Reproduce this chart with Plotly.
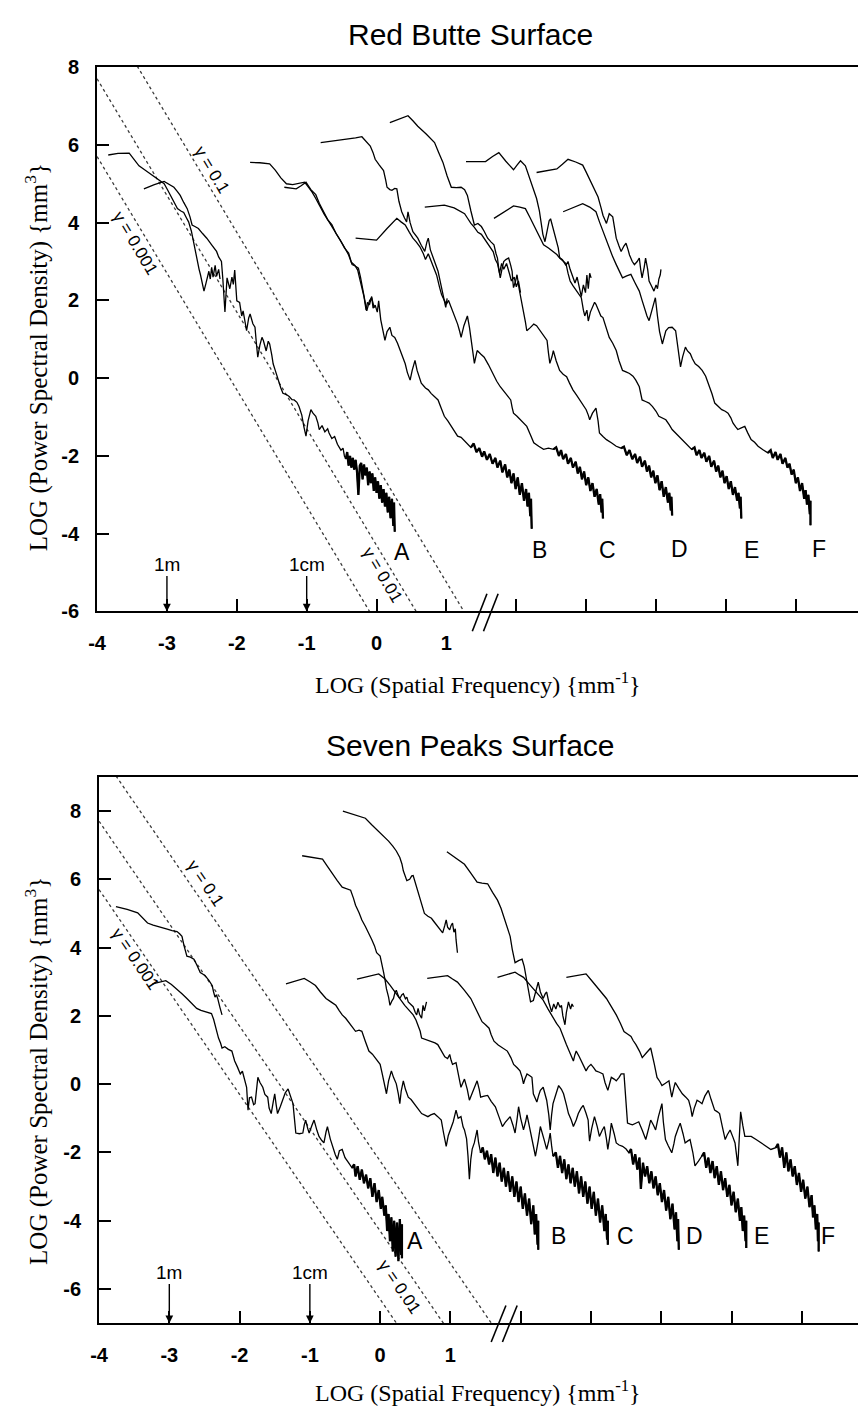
import plotly.graph_objects as go

# ---------------------------------------------------------------
# Power spectral density profiles, LOG10 units.
# Families A-F are displaced along the frequency axis by one decade
# each (axis broken after 1); each list holds (log f, log PSD) pairs.
# ---------------------------------------------------------------

# ---------------- Red Butte surface ----------------
RB_A_HI = [(-3.84,5.74),(-3.70,5.78),(-3.54,5.79),(-3.47,5.62),(-3.40,5.46),(-3.32,5.36),(-3.23,5.25),
           (-3.14,5.14),(-3.04,5.00),(-2.99,4.84),(-2.95,4.70),(-2.90,4.52),(-2.85,4.36),(-2.80,4.30),
           (-2.76,4.26),(-2.72,4.12),(-2.69,4.02),(-2.65,3.78),(-2.62,3.51),(-2.59,3.25),(-2.57,3.00),
           (-2.54,2.80),(-2.52,2.66),(-2.49,2.40),(-2.47,2.24),(-2.44,2.45),(-2.42,2.62),(-2.40,2.75),
           (-2.38,2.55),(-2.36,2.85),(-2.34,2.60),(-2.31,2.90),(-2.29,2.62),(-2.26,2.80),(-2.24,2.55)]
RB_A_LO = [(-3.33,4.87),(-3.18,4.98),(-3.04,5.06),(-2.97,4.98),(-2.90,4.91),(-2.85,4.80),(-2.81,4.70),
           (-2.76,4.52),(-2.71,4.36),(-2.67,4.15),(-2.64,3.94),(-2.60,3.90),(-2.55,3.85),(-2.49,3.72),
           (-2.43,3.60),(-2.36,3.43),(-2.29,3.26),(-2.26,3.12),(-2.22,3.00),(-2.20,2.55),(-2.17,1.70),
           (-2.14,2.58),(-2.10,2.30),(-2.07,2.60),(-2.05,2.41),(-2.03,2.78),(-2.01,2.10),(-2.00,1.99),
           (-1.96,1.95),(-1.93,1.60),(-1.91,1.73),(-1.88,1.40),(-1.86,1.22),(-1.83,1.55),(-1.81,1.65),
           (-1.77,1.40),(-1.74,1.31),(-1.72,0.90),(-1.70,0.54),(-1.67,0.85),(-1.64,1.05),(-1.62,0.97),
           (-1.58,0.70),(-1.55,0.95),(-1.53,0.88),(-1.50,0.60),(-1.48,0.37),(-1.45,0.20),(-1.41,-0.05),
           (-1.37,-0.25),(-1.34,-0.39),(-1.29,-0.42),(-1.25,-0.47),(-1.21,-0.55),(-1.18,-0.56),
           (-1.14,-0.62),(-1.11,-0.73),(-1.07,-0.95),(-1.04,-1.25),(-1.01,-1.49),(-0.98,-1.10),
           (-0.94,-0.81),(-0.91,-0.90),(-0.87,-0.98),(-0.84,-1.15),(-0.82,-1.32),(-0.78,-1.22),
           (-0.74,-1.38),(-0.70,-1.30),(-0.68,-1.41),(-0.64,-1.55),(-0.60,-1.50),(-0.56,-1.70),
           (-0.54,-1.75),(-0.51,-1.85),(-0.48,-1.80),(-0.46,-2.00),(-0.44,-2.08),(-0.42,-1.90),
           (-0.40,-2.25),(-0.38,-2.00),(-0.36,-2.30),(-0.34,-2.05),(-0.32,-2.35),(-0.30,-2.10),
           (-0.28,-2.40),(-0.26,-3.00),(-0.24,-2.25),(-0.22,-2.18),(-0.20,-2.60),(-0.18,-2.22),
           (-0.16,-2.50),(-0.14,-2.30),(-0.12,-2.75),(-0.10,-2.40),(-0.08,-2.70),(-0.06,-2.45),
           (-0.04,-2.90),(-0.02,-2.55),(0.00,-2.95),(0.02,-2.65),(0.04,-3.10),(0.06,-2.75),(0.08,-3.20),
           (0.10,-2.85),(0.12,-3.30),(0.14,-2.95),(0.16,-3.45),(0.18,-3.05),(0.20,-3.60),(0.22,-3.10),
           (0.24,-3.80),(0.25,-3.20),(0.26,-3.95)]
RB_B_HI = [(-1.81,5.55),(-1.67,5.54),(-1.53,5.51),(-1.45,5.35),(-1.37,5.15),(-1.29,5.00),(-1.20,4.98),
           (-1.10,5.02),(-1.03,5.04),(-0.97,4.90),(-0.92,4.78),(-0.87,4.62),(-0.82,4.45),(-0.75,4.22),
           (-0.68,4.02),(-0.61,3.82),(-0.54,3.60),(-0.47,3.40),(-0.40,3.17),(-0.37,3.02),(-0.35,2.92),
           (-0.30,2.88),(-0.26,2.83),(-0.23,2.60),(-0.21,2.41),(-0.17,2.05),(-0.14,1.73),(-0.10,2.00),
           (-0.07,2.07),(-0.04,1.85),(-0.02,1.82)]
RB_B_LO = [(-1.32,4.91),(-1.23,4.88),(-1.15,4.87),(-1.08,4.95),(-1.01,5.04),(-0.94,4.85),(-0.87,4.72),
           (-0.82,4.50),(-0.76,4.28),(-0.70,4.08),(-0.64,3.95),(-0.58,3.72),(-0.52,3.55),(-0.46,3.35),
           (-0.40,3.22),(-0.36,2.98),(-0.31,2.90),(-0.27,2.78),(-0.24,2.55),(-0.21,2.35),(-0.18,2.10),
           (-0.15,1.75),(-0.13,1.95),(-0.10,1.90),(-0.07,2.10),(-0.05,1.80),(-0.02,1.88),(0.01,1.70),
           (0.03,1.99),(0.06,1.50),(0.09,1.20),(0.12,0.97),(0.15,1.20),(0.19,1.31),(0.22,1.10),
           (0.26,1.05),(0.30,0.90),(0.34,0.71),(0.37,0.55),(0.41,0.37),(0.44,0.15),(0.48,-0.05),
           (0.51,0.20),(0.55,0.46),(0.58,0.20),(0.61,0.00),(0.64,-0.13),(0.70,-0.25),(0.74,-0.30),
           (0.78,-0.39),(0.83,-0.48),(0.88,-0.56),(0.92,-0.75),(0.97,-0.98),(1.02,-1.10),(1.07,-1.24),
           (1.12,-1.35),(1.16,-1.49),(1.21,-1.52),(1.26,-1.62),(1.30,-1.70),(1.35,-1.78),(1.39,-1.68),
           (1.43,-1.90),(1.47,-1.80),(1.51,-2.02),(1.54,-1.88),(1.58,-2.10),(1.62,-1.95),(1.66,-2.20),
           (1.70,-2.05),(1.73,-2.30),(1.77,-2.12),(1.80,-2.42),(1.84,-2.22),(1.87,-2.55),(1.90,-2.35),
           (1.93,-2.70),(1.96,-2.45),(1.99,-2.85),(2.02,-2.55),(2.05,-3.00),(2.08,-2.70),(2.11,-3.15),
           (2.14,-2.85),(2.16,-3.30),(2.18,-2.95),(2.20,-3.55),(2.21,-3.10),(2.22,-3.87)]
RB_C_HI = [(-0.80,6.06),(-0.62,6.10),(-0.44,6.13),(-0.30,6.18),(-0.21,6.21),(-0.15,6.10),(-0.09,5.97),
           (-0.05,5.80),(-0.02,5.63),(0.04,5.48),(0.10,5.34),(0.13,5.10),(0.15,4.91),(0.19,4.85),
           (0.22,4.83),(0.26,4.88),(0.29,4.87),(0.32,4.55),(0.36,4.28),(0.40,4.12),(0.43,4.02),
           (0.45,4.28),(0.48,4.00),(0.52,3.77),(0.56,3.68),(0.59,3.60),(0.64,3.42),(0.69,3.26),
           (0.72,3.50),(0.74,3.60),(0.77,3.30),(0.81,3.09),(0.84,2.92),(0.88,2.75),(0.90,2.58),
           (0.92,2.41),(0.95,2.20),(0.97,2.07),(0.99,1.82),(1.01,2.05)]
RB_C_LO = [(-0.30,3.60),(-0.15,3.58),(0.00,3.55),(0.15,3.85),(0.29,4.11),(0.35,4.02),(0.41,3.94),
           (0.47,3.75),(0.52,3.60),(0.57,3.50),(0.62,3.38),(0.67,3.20),(0.70,3.05),(0.74,3.20),
           (0.78,3.00),(0.82,2.80),(0.86,2.65),(0.90,2.35),(0.93,2.15),(0.97,2.00),(1.00,1.90),
           (1.03,2.00),(1.07,1.82),(1.11,1.60),(1.16,1.39),(1.19,1.20),(1.21,1.05),(1.25,1.35),
           (1.30,1.60),(1.33,1.30),(1.35,1.05),(1.38,0.70),(1.40,0.38),(1.42,0.55),(1.44,0.71),
           (1.49,0.62),(1.54,0.54),(1.60,0.35),(1.68,0.04),(1.72,-0.08),(1.77,-0.22),(1.84,-0.38),
           (1.92,-0.56),(1.94,-0.75),(1.96,-0.90),(2.01,-0.98),(2.06,-1.07),(2.10,-1.15),(2.15,-1.24),
           (2.20,-1.45),(2.25,-1.66),(2.32,-1.75),(2.39,-1.83),(2.46,-1.80),(2.53,-1.83),(2.57,-1.78),
           (2.61,-2.00),(2.64,-1.85),(2.67,-2.08),(2.71,-1.95),(2.74,-2.20),(2.78,-2.05),(2.81,-2.30),
           (2.85,-2.15),(2.88,-2.45),(2.91,-2.28),(2.94,-2.60),(2.97,-2.40),(3.00,-2.75),(3.03,-2.55),
           (3.06,-2.90),(3.09,-2.70),(3.12,-3.05),(3.15,-2.85),(3.18,-3.25),(3.20,-2.98),(3.22,-3.45),
           (3.23,-3.10),(3.24,-3.61)]
RB_D_HI = [(0.19,6.57),(0.32,6.66),(0.45,6.75),(0.52,6.62),(0.59,6.48),(0.71,6.28),(0.83,6.06),
           (0.89,5.80),(0.95,5.55),(1.01,5.20),(1.07,4.91),(1.14,4.90),(1.21,4.91),(1.26,4.85),
           (1.30,4.70),(1.35,4.30),(1.40,3.94),(1.45,3.98),(1.50,3.90),(1.54,3.78),(1.59,3.60),
           (1.64,3.50),(1.68,3.43),(1.71,3.20),(1.73,3.09),(1.75,2.80),(1.77,2.58),(1.80,2.85),
           (1.82,3.00),(1.85,3.05),(1.89,3.09),(1.92,2.90),(1.94,2.75),(1.95,2.50),(1.96,2.33),
           (1.99,2.50),(2.01,2.66),(2.04,2.30),(2.06,2.07),(2.08,1.90),(2.10,1.73),(2.13,1.45),
           (2.15,1.22),(2.20,1.30),(2.25,1.39),(2.29,1.35),(2.34,1.22),(2.39,1.10),(2.44,0.97),
           (2.46,0.65),(2.48,0.38),(2.51,0.55),(2.53,0.71),(2.57,0.45),(2.62,0.20),(2.67,0.10),
           (2.72,0.04),(2.76,-0.12),(2.81,-0.30),(2.86,-0.43),(2.91,-0.56),(2.95,-0.68),(3.00,-0.81),
           (3.03,-0.95),(3.05,-1.07),(3.09,-0.90),(3.14,-0.77),(3.17,-1.10),(3.19,-1.41),(3.24,-1.50),
           (3.29,-1.58),(3.36,-1.66),(3.43,-1.75),(3.50,-1.80),(3.54,-1.76),(3.58,-1.98),(3.62,-1.85),
           (3.66,-2.08),(3.70,-1.95),(3.73,-2.18),(3.77,-2.02),(3.80,-2.28),(3.84,-2.12),(3.87,-2.40),
           (3.90,-2.25),(3.93,-2.55),(3.96,-2.38),(3.99,-2.70),(4.02,-2.50),(4.05,-2.88),(4.08,-2.65),
           (4.11,-3.05),(4.14,-2.80),(4.17,-3.20),(4.19,-2.95),(4.21,-3.40),(4.22,-3.05),(4.23,-3.53)]
RB_D_LO = [(0.69,4.40),(0.83,4.43),(0.97,4.45),(1.11,4.38),(1.26,4.23),(1.30,4.12),(1.35,3.98),
           (1.40,3.88),(1.45,3.75),(1.50,3.70),(1.56,3.55),(1.62,3.40),(1.67,3.25),(1.70,3.05),
           (1.73,2.95),(1.76,2.70),(1.79,2.95),(1.82,2.80),(1.86,2.95),(1.90,2.70),(1.93,2.50),
           (1.97,2.60),(2.00,2.35),(2.03,2.50),(2.06,2.20)]
RB_E_HI = [(1.28,5.57),(1.42,5.57),(1.56,5.57),(1.66,5.70),(1.75,5.80),(1.85,5.58),(1.96,5.36),
           (2.01,5.48),(2.06,5.59),(2.13,5.46),(2.18,5.20),(2.22,4.95),(2.26,4.78),(2.29,4.62),
           (2.33,4.30),(2.36,3.94),(2.38,3.70),(2.41,3.51),(2.44,3.80),(2.47,4.05),(2.49,4.10),
           (2.52,3.90),(2.54,3.75),(2.57,3.60),(2.60,3.35),(2.62,3.10),(2.66,3.05),(2.71,2.90),
           (2.74,3.00),(2.77,2.80),(2.81,2.60),(2.84,2.45),(2.87,2.60),(2.90,2.30),(2.93,2.10),
           (2.96,2.40),(2.99,2.20),(3.01,2.65),(3.03,2.30),(3.05,2.70),(3.07,2.58)]
RB_E_LO = [(1.68,4.11),(1.82,4.28),(1.96,4.43),(2.05,4.40),(2.13,4.36),(2.19,4.15),(2.25,3.94),
           (2.32,3.68),(2.39,3.43),(2.46,3.35),(2.53,3.26),(2.58,3.18),(2.62,3.09),(2.67,3.02),
           (2.71,2.95),(2.74,2.70),(2.77,2.50),(2.81,2.38),(2.86,2.24),(2.90,2.15),(2.93,2.07),
           (2.96,1.75),(2.98,1.60),(3.01,1.75),(3.03,1.47),(3.06,1.70),(3.09,1.85),(3.12,1.95),
           (3.14,1.90),(3.18,1.75),(3.21,1.60),(3.24,1.56),(3.28,1.35),(3.33,1.05),(3.38,0.90),
           (3.43,0.71),(3.47,0.45),(3.52,0.20),(3.57,0.16),(3.62,0.12),(3.67,0.05),(3.71,-0.05),
           (3.76,-0.22),(3.78,-0.40),(3.80,-0.56),(3.85,-0.60),(3.90,-0.64),(3.95,-0.73),(4.00,-0.85),
           (4.04,-0.98),(4.09,-1.02),(4.14,-1.07),(4.19,-1.20),(4.23,-1.32),(4.30,-1.45),(4.37,-1.58),
           (4.44,-1.70),(4.51,-1.83),(4.55,-1.78),(4.58,-1.98),(4.62,-1.85),(4.65,-2.05),(4.69,-1.92),
           (4.72,-2.15),(4.76,-2.00),(4.79,-2.28),(4.83,-2.12),(4.86,-2.40),(4.89,-2.25),(4.92,-2.55),
           (4.95,-2.38),(4.98,-2.70),(5.01,-2.52),(5.04,-2.85),(5.07,-2.65),(5.10,-3.00),(5.13,-2.80),
           (5.16,-3.15),(5.18,-2.95),(5.20,-3.35),(5.21,-3.05),(5.22,-3.61)]
RB_F_HI = [(2.29,5.29),(2.44,5.33),(2.58,5.38),(2.66,5.50),(2.74,5.63),(2.85,5.56),(2.95,5.48),
           (3.00,5.30),(3.05,5.12),(3.11,4.90),(3.17,4.66),(3.21,4.40),(3.24,4.19),(3.29,3.98),
           (3.33,4.23),(3.38,4.15),(3.43,3.60),(3.47,3.40),(3.50,3.26),(3.54,3.40),(3.57,3.47),
           (3.60,3.30),(3.62,3.17),(3.66,3.00),(3.69,2.92),(3.73,3.00),(3.76,3.09),(3.78,2.80),
           (3.80,2.58),(3.83,2.85),(3.85,3.09),(3.88,2.80),(3.90,2.50),(3.94,2.35),(3.97,2.24),
           (4.00,2.40),(4.02,2.30),(4.04,2.55),(4.06,2.66),(4.07,2.80)]
RB_F_LO = [(2.67,4.28),(2.81,4.38),(2.95,4.49),(3.05,4.40),(3.14,4.28),(3.19,4.02),(3.24,3.77),
           (3.29,3.55),(3.33,3.34),(3.38,3.12),(3.43,2.92),(3.48,2.75),(3.52,2.58),(3.58,2.63),
           (3.64,2.67),(3.70,2.45),(3.76,2.24),(3.80,2.00),(3.84,1.75),(3.87,1.60),(3.90,1.48),
           (3.94,1.75),(3.99,2.07),(4.02,1.60),(4.05,1.20),(4.09,0.88),(4.11,1.00),(4.14,1.22),
           (4.18,1.30),(4.23,1.31),(4.28,1.22),(4.31,0.80),(4.35,0.29),(4.38,0.55),(4.42,0.80),
           (4.45,0.70),(4.49,0.63),(4.52,0.50),(4.56,0.37),(4.61,0.30),(4.66,0.20),(4.71,0.05),
           (4.75,-0.14),(4.80,-0.40),(4.84,-0.64),(4.89,-0.72),(4.94,-0.81),(4.99,-0.85),(5.03,-0.90),
           (5.07,-1.02),(5.10,-1.15),(5.14,-1.25),(5.17,-1.32),(5.22,-1.28),(5.27,-1.24),(5.31,-1.40),
           (5.36,-1.58),(5.41,-1.65),(5.46,-1.75),(5.53,-1.84),(5.60,-1.92),(5.64,-1.85),(5.67,-2.05),
           (5.71,-1.90),(5.74,-2.10),(5.78,-1.95),(5.81,-2.20),(5.85,-2.05),(5.88,-2.30),(5.91,-2.20),
           (5.94,-2.48),(5.97,-2.35),(6.00,-2.70),(6.03,-2.55),(6.06,-2.90),(6.09,-2.70),(6.12,-3.10),
           (6.14,-2.88),(6.16,-3.25),(6.18,-3.00),(6.20,-3.50),(6.21,-3.15),(6.21,-3.78)]

# ---------------- Seven Peaks surface ----------------
SP_A_HI = [(-3.76,5.20),(-3.60,5.12),(-3.45,5.02),(-3.38,4.88),(-3.31,4.72),(-3.23,4.66),(-3.15,4.62),
           (-3.09,4.58),(-3.03,4.54),(-2.96,4.50),(-2.89,4.47),(-2.85,4.40),(-2.82,4.33),(-2.79,4.05),
           (-2.75,3.75),(-2.70,3.72),(-2.65,3.66),(-2.61,3.50),(-2.56,3.27),(-2.52,3.22),(-2.49,3.18),
           (-2.44,3.05),(-2.39,2.89),(-2.37,2.70),(-2.35,2.55),(-2.33,2.62),(-2.31,2.50),(-2.28,2.25),
           (-2.25,2.03)]
SP_A_LO = [(-3.24,2.94),(-3.15,2.98),(-3.05,3.03),(-2.97,2.92),(-2.89,2.79),(-2.82,2.65),(-2.75,2.51),
           (-2.68,2.36),(-2.61,2.22),(-2.55,2.16),(-2.49,2.12),(-2.44,2.10),(-2.40,2.07),(-2.37,1.90),
           (-2.35,1.74),(-2.32,1.55),(-2.30,1.35),(-2.27,1.20),(-2.25,1.06),(-2.21,1.10),(-2.16,1.02),
           (-2.11,0.97),(-2.09,0.80),(-2.07,0.68),(-2.03,0.50),(-1.99,0.30),(-1.96,0.38),(-1.93,0.15),
           (-1.90,-0.09),(-1.88,-0.76),(-1.86,-0.40),(-1.83,-0.38),(-1.80,-0.60),(-1.78,-0.57),
           (-1.76,-0.10),(-1.74,0.20),(-1.71,0.05),(-1.67,-0.09),(-1.64,-0.30),(-1.60,-0.38),
           (-1.58,-0.70),(-1.55,-0.86),(-1.52,-0.50),(-1.50,-0.28),(-1.48,-0.60),(-1.46,-0.86),
           (-1.42,-0.65),(-1.39,-0.47),(-1.35,-0.25),(-1.31,-0.14),(-1.28,-0.30),(-1.24,-0.57),
           (-1.22,-1.00),(-1.20,-1.43),(-1.15,-1.45),(-1.10,-1.43),(-1.08,-1.20),(-1.06,-1.05),
           (-1.03,-1.30),(-1.01,-1.43),(-0.97,-1.20),(-0.94,-1.05),(-0.90,-1.35),(-0.87,-1.53),
           (-0.83,-1.65),(-0.80,-1.72),(-0.77,-1.40),(-0.75,-1.24),(-0.71,-1.60),(-0.68,-1.82),
           (-0.64,-2.05),(-0.61,-2.20),(-0.58,-1.95),(-0.54,-1.91),(-0.50,-2.15),(-0.45,-2.30),
           (-0.40,-2.45),(-0.37,-2.35),(-0.35,-2.70),(-0.32,-2.40),(-0.29,-2.80),(-0.26,-2.50),
           (-0.23,-2.90),(-0.20,-2.65),(-0.17,-3.05),(-0.14,-2.75),(-0.11,-3.30),(-0.08,-2.90),
           (-0.05,-3.45),(-0.02,-3.10),(0.01,-3.65),(0.03,-3.30),(0.06,-3.85),(0.08,-3.55),(0.10,-4.30),
           (0.12,-3.80),(0.14,-4.60),(0.16,-3.90),(0.18,-4.90),(0.20,-4.00),(0.22,-5.05),(0.24,-4.05),
           (0.26,-5.18),(0.28,-3.95),(0.30,-5.00),(0.31,-4.10),(0.31,-5.10)]
SP_HI_1 = [(-1.11,6.69),(-0.96,6.64),(-0.82,6.59),(-0.75,6.38),(-0.68,6.16),(-0.61,5.96),(-0.54,5.77),
           (-0.48,5.72),(-0.42,5.68),(-0.38,5.45),(-0.35,5.24),(-0.30,5.02),(-0.26,4.81),(-0.21,4.62),
           (-0.16,4.43),(-0.12,4.24),(-0.08,4.05),(-0.05,3.85),(0.00,3.75),(0.03,3.50),(0.05,3.27),
           (0.07,3.05),(0.09,2.79),(0.12,2.55),(0.14,2.31),(0.17,2.45),(0.19,2.51),(0.21,2.68),
           (0.23,2.75),(0.26,2.58),(0.28,2.51),(0.31,2.62),(0.33,2.65),(0.36,2.50),(0.38,2.55),
           (0.40,2.41),(0.43,2.35),(0.47,2.27),(0.50,2.10),(0.52,2.03),(0.54,2.22),(0.56,2.05),
           (0.59,1.93),(0.61,2.31),(0.63,2.15),(0.66,2.41)]
SP_HI_2 = [(-0.53,8.00),(-0.37,7.90),(-0.21,7.79),(-0.12,7.60),(-0.02,7.41),(0.05,7.27),(0.12,7.12),
           (0.18,6.97),(0.23,6.83),(0.28,6.64),(0.31,6.45),(0.33,6.25),(0.36,6.10),(0.38,5.96),
           (0.42,6.00),(0.45,6.10),(0.47,6.11),(0.50,5.90),(0.54,5.68),(0.58,5.35),(0.63,5.00),
           (0.68,4.92),(0.73,4.86),(0.77,4.75),(0.82,4.62),(0.86,4.50),(0.89,4.43),(0.92,4.65),
           (0.94,4.81),(0.96,4.60),(0.99,4.52),(1.01,4.65),(1.03,4.72),(1.05,4.45),(1.07,4.55),
           (1.08,4.24),(1.10,3.85)]
SP_HI_3 = [(0.95,6.81),(1.08,6.62),(1.20,6.44),(1.29,6.18),(1.38,5.92),(1.45,5.89),(1.53,5.87),
           (1.60,5.62),(1.67,5.39),(1.72,5.15),(1.76,4.91),(1.80,4.62),(1.85,4.33),(1.88,3.95),
           (1.92,3.56),(1.97,3.62),(2.02,3.66),(2.05,3.45),(2.08,3.10),(2.11,2.70),(2.14,2.41),
           (2.18,2.45),(2.21,2.70),(2.25,2.99),(2.28,2.70),(2.32,2.51),(2.35,2.65),(2.37,2.70),
           (2.40,2.40),(2.44,2.12),(2.47,2.35),(2.50,2.20),(2.53,2.40),(2.56,2.25),(2.58,2.31),
           (2.60,2.00),(2.63,1.74),(2.65,2.10),(2.68,2.41),(2.71,2.20),(2.73,2.35),(2.75,2.27)]
SP_B_LO = [(-1.34,2.94),(-1.21,3.02),(-1.08,3.10),(-1.00,3.00),(-0.92,2.89),(-0.85,2.70),(-0.77,2.51),
           (-0.70,2.41),(-0.63,2.31),(-0.58,2.15),(-0.54,2.03),(-0.49,1.93),(-0.45,1.83),(-0.40,1.70),
           (-0.35,1.55),(-0.30,1.58),(-0.26,1.55),(-0.21,1.25),(-0.16,0.97),(-0.11,0.88),(-0.07,0.78),
           (-0.03,0.68),(0.00,0.58),(0.03,0.30),(0.06,0.00),(0.09,-0.28),(0.12,0.10),(0.16,0.39),
           (0.19,0.20),(0.23,0.01),(0.26,-0.30),(0.28,-0.57),(0.30,-0.20),(0.33,0.10),(0.36,-0.15),
           (0.40,-0.38),(0.44,-0.45),(0.49,-0.57),(0.54,-0.72),(0.59,-0.86),(0.63,-0.90),(0.68,-0.95),
           (0.72,-0.90),(0.77,-0.86),(0.82,-0.95),(0.87,-1.05),(0.90,-1.40),(0.94,-1.82),(0.97,-1.50),
           (1.01,-1.24),(1.04,-1.10),(1.08,-0.76),(1.11,-1.00),(1.15,-0.95),(1.18,-1.25),(1.20,-1.34),
           (1.23,-1.60),(1.25,-2.10),(1.27,-2.78),(1.29,-2.20),(1.31,-1.90),(1.34,-1.72),(1.36,-1.50),
           (1.38,-1.34),(1.40,-1.70),(1.43,-2.01),(1.46,-1.85),(1.49,-2.20),(1.52,-1.95),(1.55,-2.35),
           (1.58,-2.05),(1.61,-2.60),(1.64,-2.15),(1.67,-2.70),(1.70,-2.30),(1.73,-2.85),(1.76,-2.45),
           (1.79,-3.00),(1.82,-2.55),(1.85,-3.15),(1.88,-2.70),(1.91,-3.30),(1.94,-2.85),(1.97,-3.45),
           (2.00,-3.00),(2.03,-3.65),(2.06,-3.20),(2.09,-3.85),(2.12,-3.35),(2.15,-4.10),(2.18,-3.55),
           (2.20,-4.40),(2.22,-3.80),(2.24,-4.70),(2.25,-4.00),(2.25,-4.85)]
SP_C_LO = [(-0.33,3.08),(-0.18,3.15),(-0.02,3.23),(0.03,3.15),(0.07,3.08),(0.14,2.90),(0.21,2.70),
           (0.28,2.50),(0.35,2.31),(0.41,2.17),(0.47,2.03),(0.51,1.88),(0.54,1.74),(0.57,1.55),
           (0.59,1.35),(0.66,1.30),(0.73,1.26),(0.78,1.21),(0.82,1.16),(0.87,0.97),(0.92,0.80),
           (0.96,0.75),(0.99,0.87),(1.01,0.70),(1.03,0.58),(1.08,0.63),(1.11,0.30),(1.15,-0.09),
           (1.20,0.15),(1.24,-0.15),(1.27,-0.47),(1.31,-0.28),(1.35,-0.05),(1.38,0.10),(1.41,-0.15),
           (1.43,-0.38),(1.48,-0.35),(1.53,-0.33),(1.58,-0.50),(1.64,-0.66),(1.69,-0.95),(1.74,-1.24),
           (1.78,-1.12),(1.81,-1.05),(1.85,-0.95),(1.89,-1.20),(1.92,-1.43),(1.95,-1.00),(1.97,-0.66),
           (2.00,-1.00),(2.04,-1.34),(2.07,-1.10),(2.09,-0.90),(2.13,-1.30),(2.16,-1.62),(2.19,-1.85),
           (2.21,-2.11),(2.25,-1.65),(2.28,-1.24),(2.33,-1.60),(2.37,-1.91),(2.40,-1.65),(2.42,-1.43),
           (2.44,-1.80),(2.46,-2.11),(2.50,-2.00),(2.53,-2.45),(2.56,-2.10),(2.59,-2.60),(2.62,-2.20),
           (2.65,-2.78),(2.68,-2.35),(2.71,-2.90),(2.74,-2.45),(2.77,-3.00),(2.80,-2.55),(2.83,-3.20),
           (2.86,-2.70),(2.89,-3.30),(2.92,-2.85),(2.95,-3.50),(2.98,-3.00),(3.01,-3.65),(3.04,-3.15),
           (3.07,-3.85),(3.10,-3.35),(3.13,-4.05),(3.16,-3.55),(3.19,-4.30),(3.21,-3.80),(3.23,-4.55),
           (3.24,-4.00),(3.24,-4.70)]
SP_D_LO = [(0.67,3.10),(0.81,3.14),(0.96,3.18),(1.03,3.08),(1.10,2.99),(1.20,2.75),(1.29,2.51),
           (1.34,2.30),(1.38,2.12),(1.42,1.98),(1.45,1.83),(1.50,1.74),(1.55,1.64),(1.58,1.45),
           (1.62,1.26),(1.68,1.15),(1.74,1.07),(1.81,0.97),(1.86,0.78),(1.90,0.58),(1.95,0.48),
           (1.99,0.39),(2.02,0.20),(2.04,0.01),(2.06,0.15),(2.09,0.30),(2.13,0.25),(2.16,0.20),
           (2.18,-0.28),(2.21,-0.40),(2.23,-0.52),(2.26,-0.30),(2.28,-0.18),(2.32,-0.09),(2.35,-0.30),
           (2.37,-0.47),(2.40,-0.90),(2.42,-1.34),(2.44,-0.90),(2.46,-0.57),(2.50,-0.30),(2.54,-0.04),
           (2.58,-0.15),(2.61,-0.28),(2.65,-0.60),(2.68,-0.86),(2.72,-1.05),(2.75,-1.24),(2.79,-1.05),
           (2.82,-0.86),(2.86,-0.70),(2.89,-0.62),(2.93,-0.85),(2.96,-1.05),(2.97,-1.40),(2.98,-1.67),
           (3.01,-1.30),(3.05,-0.95),(3.09,-1.25),(3.12,-1.53),(3.16,-1.35),(3.19,-1.24),(3.22,-1.60),
           (3.24,-1.91),(3.27,-1.50),(3.29,-1.14),(3.33,-1.45),(3.36,-1.72),(3.40,-1.78),(3.45,-1.82),
           (3.50,-1.90),(3.54,-2.01),(3.57,-1.90),(3.60,-2.35),(3.63,-2.05),(3.66,-2.50),(3.69,-2.15),
           (3.71,-3.07),(3.74,-2.30),(3.77,-2.70),(3.80,-2.40),(3.83,-2.90),(3.86,-2.55),(3.89,-3.05),
           (3.92,-2.70),(3.95,-3.25),(3.98,-2.90),(4.01,-3.45),(4.04,-3.10),(4.07,-3.70),(4.10,-3.30),
           (4.13,-3.95),(4.16,-3.50),(4.19,-4.25),(4.21,-3.75),(4.23,-4.60),(4.24,-3.95),(4.25,-4.85)]
SP_E_LO = [(1.67,3.13),(1.80,3.20),(1.92,3.28),(1.98,3.20),(2.04,3.13),(2.11,2.96),(2.18,2.79),
           (2.25,2.62),(2.32,2.46),(2.39,2.20),(2.46,1.93),(2.51,1.78),(2.56,1.64),(2.60,1.40),
           (2.65,1.16),(2.70,0.92),(2.75,0.68),(2.77,0.85),(2.79,0.97),(2.83,0.82),(2.86,0.68),
           (2.90,0.50),(2.93,0.39),(2.96,0.50),(3.00,0.58),(3.04,0.48),(3.07,0.39),(3.12,0.35),
           (3.17,0.30),(3.20,0.05),(3.24,-0.18),(3.27,0.05),(3.29,0.20),(3.33,0.15),(3.36,0.10),
           (3.40,0.20),(3.43,0.30),(3.47,0.30),(3.49,-0.40),(3.52,-1.14),(3.56,-1.17),(3.59,-1.19),
           (3.63,-1.15),(3.68,-1.10),(3.73,-1.35),(3.78,-1.62),(3.82,-1.30),(3.85,-1.05),(3.89,-1.20),
           (3.92,-1.34),(3.96,-0.95),(4.01,-0.57),(4.03,-1.10),(4.06,-1.62),(4.10,-1.80),(4.15,-2.01),
           (4.18,-1.75),(4.20,-1.53),(4.24,-1.30),(4.27,-1.14),(4.31,-1.45),(4.34,-1.72),(4.38,-1.66),
           (4.41,-1.62),(4.45,-2.00),(4.48,-2.39),(4.53,-2.25),(4.58,-2.11),(4.61,-2.00),(4.64,-2.45),
           (4.67,-2.15),(4.70,-2.60),(4.73,-2.25),(4.76,-2.75),(4.79,-2.40),(4.82,-2.95),(4.85,-2.55),
           (4.88,-3.10),(4.91,-2.75),(4.94,-3.30),(4.97,-2.95),(5.00,-3.55),(5.03,-3.15),(5.06,-3.75),
           (5.09,-3.35),(5.12,-4.00),(5.14,-3.60),(5.16,-4.30),(5.18,-3.85),(5.20,-4.60),(5.21,-4.00),
           (5.21,-4.80)]
SP_F_LO = [(2.65,3.13),(2.79,3.18),(2.93,3.23),(3.00,3.06),(3.07,2.89),(3.15,2.70),(3.22,2.51),
           (3.29,2.27),(3.36,2.03),(3.42,1.78),(3.47,1.54),(3.52,1.47),(3.57,1.40),(3.60,1.28),
           (3.64,1.16),(3.69,0.97),(3.73,0.78),(3.79,0.92),(3.85,1.06),(3.90,0.60),(3.94,0.20),
           (3.98,0.08),(4.01,-0.04),(4.06,0.03),(4.11,0.10),(4.13,-0.15),(4.15,-0.38),(4.18,-0.10),
           (4.20,0.05),(4.25,-0.12),(4.30,-0.28),(4.35,-0.38),(4.39,-0.47),(4.42,-0.70),(4.44,-0.95),
           (4.47,-0.70),(4.51,-0.47),(4.55,-0.52),(4.58,-0.57),(4.62,-0.35),(4.67,-0.18),(4.71,-0.45),
           (4.76,-0.76),(4.80,-0.81),(4.83,-0.86),(4.87,-1.25),(4.91,-1.62),(4.94,-1.48),(4.98,-1.34),
           (5.02,-1.55),(5.05,-1.72),(5.07,-2.05),(5.09,-2.39),(5.11,-1.60),(5.13,-0.81),(5.16,-1.20),
           (5.19,-1.53),(5.23,-1.53),(5.28,-1.53),(5.35,-1.62),(5.42,-1.72),(5.49,-1.82),(5.56,-1.91),
           (5.63,-1.86),(5.66,-1.75),(5.69,-2.15),(5.72,-1.85),(5.75,-2.45),(5.78,-2.00),(5.81,-2.55),
           (5.84,-2.20),(5.87,-2.70),(5.90,-2.40),(5.93,-2.95),(5.96,-2.60),(5.99,-3.15),(6.02,-2.80),
           (6.05,-3.35),(6.08,-3.00),(6.11,-3.60),(6.14,-3.25),(6.16,-3.90),(6.18,-3.55),(6.20,-4.25),
           (6.22,-3.80),(6.23,-4.60),(6.24,-4.05),(6.24,-4.90)]

RED_BUTTE = [RB_A_HI, RB_A_LO, RB_B_HI, RB_B_LO, RB_C_HI, RB_C_LO,
             RB_D_HI, RB_D_LO, RB_E_HI, RB_E_LO, RB_F_HI, RB_F_LO]
SEVEN_PEAKS = [SP_A_HI, SP_A_LO, SP_HI_1, SP_HI_2, SP_HI_3,
               SP_B_LO, SP_C_LO, SP_D_LO, SP_E_LO, SP_F_LO]

# family labels (letter, log f, log PSD)
FAMILY_NAMES = ["A", "B", "C", "D", "E", "F"]
RB_LABEL_X = [0.36, 2.33, 3.31, 4.33, 5.36, 6.33]
RB_LABEL_Y = [-4.47, -4.42, -4.42, -4.40, -4.42, -4.40]
SP_LABEL_X = [0.49, 2.54, 3.49, 4.48, 5.42, 6.38]
SP_LABEL_Y = [-4.60, -4.46, -4.46, -4.46, -4.46, -4.46]

# constant-gamma reference lines: log PSD = intercept + slope * log f
GAMMA_TEXT = ["\u03b3 = 0.1", "\u03b3 = 0.01", "\u03b3 = 0.001"]
GAMMA_INTERCEPT = [-2.25, -4.3, -6.3]
GAMMA_SLOPE = -3.0
RB_GAMMA_LABEL_X = [-2.35, 0.08, -3.45]
RB_GAMMA_LABEL_Y = [5.35, -5.05, 3.47]
SP_GAMMA_LABEL_X = [-2.48, 0.27, -3.49]
SP_GAMMA_LABEL_Y = [5.89, -5.93, 3.67]

# wavelength markers
SCALE_TEXT = ["1m", "1cm"]
SCALE_X = [-3, -1]

X_TICKS = [-4, -3, -2, -1, 0, 1, 2, 3, 4, 5, 6]
X_TICK_TEXT = ["-4", "-3", "-2", "-1", "0", "1", "", "", "", "", ""]
Y_TICKS = [-6, -4, -2, 0, 2, 4, 6, 8]
Y_TICK_TEXT = ["-6", "-4", "-2", "0", "2", "4", "6", "8"]

# drawing style: the high-frequency ends of the spectra are dense noise,
# drawn with a heavier pen from the given log f onwards
RB_DENSE_FROM = [None, -0.44, None, 1.35, None, 2.53, 3.50, None, None, 4.51, None, 5.60]
SP_DENSE_FROM = [None, -0.40, None, None, None, 1.43, 2.46, 3.54, 4.58, 5.63]
LINE_W = 1.3
DENSE_W = 2.3

W, H = 858, 1412
SANS = "Liberation Sans, Arial, sans-serif"
SERIF = "Liberation Serif, Times New Roman, serif"

panels = [
    dict(curves=SEVEN_PEAKS, dense=SP_DENSE_FROM, xa="x2", ya="y2", xr=[-4, 6.80], yr=[-7, 9],
         lab_x=SP_LABEL_X, lab_y=SP_LABEL_Y, g_x=SP_GAMMA_LABEL_X, g_y=SP_GAMMA_LABEL_Y,
         gangle=55.7, mark_text_y=-5.52, mark_top=-5.81, brk=1.76,
         brk_y=(1 - 1352 / H, 1 - 1315 / H), title="Seven Peaks Surface",
         title_y=1 - 746 / H, xt_y=1 - 1402 / H, yt_y=1 - 1077 / H),
    dict(curves=RED_BUTTE, dense=RB_DENSE_FROM, xa="x", ya="y", xr=[-4, 6.89], yr=[-6, 8],
         lab_x=RB_LABEL_X, lab_y=RB_LABEL_Y, g_x=RB_GAMMA_LABEL_X, g_y=RB_GAMMA_LABEL_Y,
         gangle=59.1, mark_text_y=-4.80, mark_top=-5.05, brk=1.55,
         brk_y=(1 - 630 / H, 1 - 592 / H), title="Red Butte Surface",
         title_y=1 - 24 / H, xt_y=1 - 683 / H, yt_y=1 - 352 / H),
]

fig = go.Figure()
annotations = []
shapes = []


def label(**kw):
    """Text annotation centred on its anchor point."""
    base = dict(showarrow=False, xanchor="center", yanchor="middle")
    base.update(kw)
    annotations.append(base)


for p in panels:
    # constant-gamma dotted lines across the panel
    x0, x1 = p["xr"]
    for c in GAMMA_INTERCEPT:
        fig.add_trace(go.Scatter(
            x=[x0, x1], y=[c + GAMMA_SLOPE * x0, c + GAMMA_SLOPE * x1],
            mode="lines", xaxis=p["xa"], yaxis=p["ya"],
            line=dict(color="#3a3a3a", width=1.3, dash="dot"), hoverinfo="skip"))
    # spectra
    for curve, dense_from in zip(p["curves"], p["dense"]):
        xs = [pt[0] for pt in curve]
        ys = [pt[1] for pt in curve]
        fig.add_trace(go.Scatter(x=xs, y=ys, mode="lines", xaxis=p["xa"], yaxis=p["ya"],
                                 line=dict(color="black", width=LINE_W)))
        if dense_from is not None:
            tail = [pt for pt in curve if pt[0] >= dense_from]
            fig.add_trace(go.Scatter(
                x=[pt[0] for pt in tail], y=[pt[1] for pt in tail], mode="lines",
                xaxis=p["xa"], yaxis=p["ya"], line=dict(color="black", width=DENSE_W)))
    # family letters
    for name, lx, ly in zip(FAMILY_NAMES, p["lab_x"], p["lab_y"]):
        label(x=lx, y=ly, xref=p["xa"], yref=p["ya"], text=name,
              font=dict(family=SANS, size=23, color="black"))
    # gamma labels, rotated along the lines
    for t, gx, gy in zip(GAMMA_TEXT, p["g_x"], p["g_y"]):
        label(x=gx, y=gy, xref=p["xa"], yref=p["ya"], text=t, textangle=p["gangle"],
              font=dict(family=SANS, size=17, color="black"))
    # 1m / 1cm markers with arrows down to the axis
    y_axis_bottom = p["yr"][0]
    for t, sx in zip(SCALE_TEXT, SCALE_X):
        label(x=sx, y=p["mark_text_y"], xref=p["xa"], yref=p["ya"], text=t,
              font=dict(family=SANS, size=19, color="black"))
        annotations.append(dict(x=sx, y=y_axis_bottom, xref=p["xa"], yref=p["ya"],
                                ax=sx, ay=p["mark_top"], axref=p["xa"], ayref=p["ya"],
                                text="", showarrow=True, arrowhead=2, arrowsize=1.1,
                                arrowwidth=1.4, arrowcolor="black", standoff=0))
    # axis-break marks
    b0, b1 = p["brk_y"]
    for dx in (0.0, 0.16):
        shapes.append(dict(type="line", xref=p["xa"], yref="paper",
                           x0=p["brk"] - 0.18 + dx, x1=p["brk"] + 0.03 + dx, y0=b0, y1=b1,
                           line=dict(color="black", width=1.6)))
    # panel title and axis titles
    label(x=466 / W, y=p["title_y"], xref="paper", yref="paper", text=p["title"],
          font=dict(family=SANS, size=30, color="black"))
    label(x=0.5519, y=p["xt_y"], xref="paper", yref="paper",
          text="LOG (Spatial Frequency) {mm<sup>-1</sup>}",
          font=dict(family=SERIF, size=24, color="black"))
    label(x=28 / W, y=p["yt_y"], xref="paper", yref="paper",
          text="LOG (Power Spectral Density) {mm<sup>3</sup>}", textangle=-90,
          font=dict(family=SERIF, size=25, color="black"))

axis_common = dict(showgrid=False, zeroline=False, showline=True, linecolor="black",
                   linewidth=2, ticks="inside", ticklen=12, tickcolor="black")
tick_font = dict(family=SANS, size=20, weight="bold", color="black")

fig.update_layout(
    width=W, height=H, margin=dict(l=0, r=0, t=0, b=0),
    paper_bgcolor="white", plot_bgcolor="white", showlegend=False,
    font=dict(family=SANS, color="black"),
    xaxis=dict(domain=[89 / W, 1], range=[-4, 6.89], anchor="y", mirror=True,
               tickvals=X_TICKS, ticktext=X_TICK_TEXT, tickwidth=1.5,
               tickfont=tick_font, ticklabelstandoff=13, **axis_common),
    yaxis=dict(domain=[1 - 610 / H, 1 - 57 / H], range=[-6, 8], anchor="x",
               tickvals=Y_TICKS, ticktext=Y_TICK_TEXT, tickwidth=2,
               tickfont=tick_font, ticklabelstandoff=12, **axis_common),
    xaxis2=dict(domain=[91 / W, 1], range=[-4, 6.80], anchor="y2", mirror=True,
                tickvals=X_TICKS, ticktext=X_TICK_TEXT, tickwidth=1.5,
                tickfont=tick_font, ticklabelstandoff=13, **axis_common),
    yaxis2=dict(domain=[1 - 1333 / H, 1 - 778 / H], range=[-7, 9], anchor="x2",
                tickvals=Y_TICKS, ticktext=Y_TICK_TEXT, tickwidth=2,
                tickfont=tick_font, ticklabelstandoff=12, **axis_common),
    annotations=annotations,
    shapes=shapes,
)

fig.write_html("out.html")
